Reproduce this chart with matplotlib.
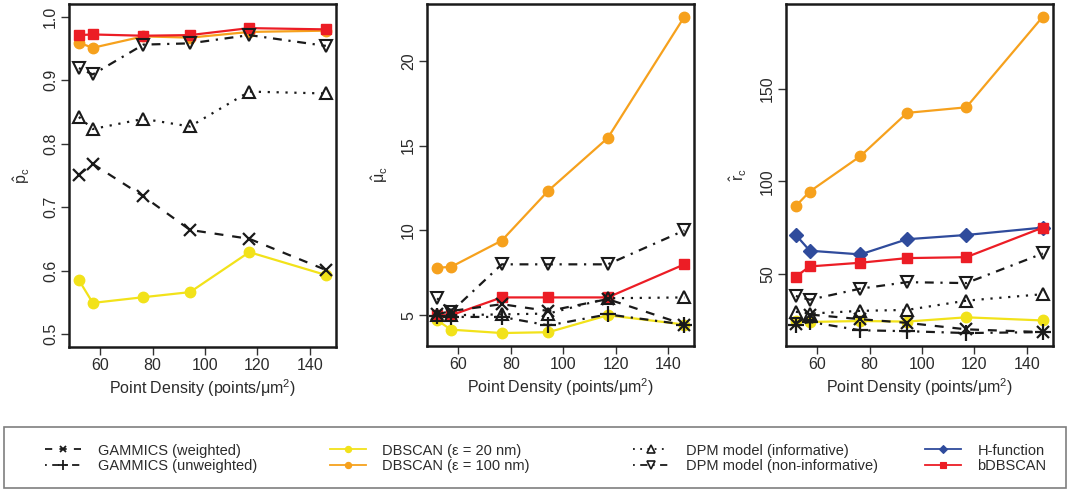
import matplotlib
matplotlib.use('Agg')
import matplotlib.pyplot as plt
from matplotlib.lines import Line2D
from matplotlib.patches import Rectangle

plt.rcParams['font.family'] = ['Liberation Sans', 'DejaVu Sans']
plt.rcParams['mathtext.fontset'] = 'custom'
plt.rcParams['mathtext.rm'] = 'Liberation Sans'
plt.rcParams['mathtext.it'] = 'Liberation Sans'
plt.rcParams['mathtext.bf'] = 'Liberation Sans:bold'

# point density, shared by all three panels
density = [51.9, 57.2, 76.5, 94.3, 116.9, 146.1]

# panel 1: p_c
p_gammics_w = [0.751, 0.768, 0.717, 0.664, 0.650, 0.601]
p_dbscan20 = [0.585, 0.549, 0.558, 0.566, 0.629, 0.593]
p_dbscan100 = [0.959, 0.951, 0.969, 0.967, 0.976, 0.978]
p_dpm_inf = [0.842, 0.823, 0.839, 0.827, 0.882, 0.879]
p_dpm_non = [0.919, 0.909, 0.956, 0.958, 0.971, 0.954]
p_bdbscan = [0.971, 0.972, 0.970, 0.971, 0.982, 0.980]

# panel 2: mu_c
mu_gammics_w = [5.05, 5.25, 5.65, 5.25, 5.95, 4.45]
mu_gammics_u = [4.95, 4.9, 4.9, 4.4, 5.05, 4.45]
mu_dbscan20 = [4.7, 4.15, 3.95, 4.0, 5.0, 4.45]
mu_dbscan100 = [7.8, 7.85, 9.4, 12.35, 15.45, 22.6]
mu_dpm_inf = [5.0, 5.0, 5.05, 5.1, 6.0, 6.05]
mu_dpm_non = [6.0, 5.2, 8.0, 8.0, 8.0, 10.0]
mu_bdbscan = [5.0, 5.0, 6.05, 6.05, 6.05, 8.0]

# panel 3: r_c
r_gammics_w = [23.0, 28.0, 25.5, 23.5, 20.0, 18.5]
r_gammics_u = [22.5, 24.0, 19.5, 19.0, 18.0, 18.5]
r_dbscan20 = [24.5, 24.0, 24.5, 24.2, 26.5, 24.8]
r_dbscan100 = [86.7, 94.5, 113.6, 137.0, 140.0, 189.0]
r_dpm_inf = [29.5, 28.5, 30.0, 30.5, 35.5, 39.0]
r_dpm_non = [38.0, 36.0, 42.0, 45.5, 45.0, 61.0]
r_hfunc = [71.0, 62.5, 60.5, 68.7, 71.0, 75.0]
r_bdbscan = [48.5, 54.0, 56.0, 58.5, 59.0, 75.0]

labels = ['GAMMICS (weighted)', 'GAMMICS (unweighted)',
          'DBSCAN (\u03b5 = 20 nm)', 'DBSCAN (\u03b5 = 100 nm)',
          'DPM model (informative)', 'DPM model (non-informative)',
          'H-function', 'bDBSCAN']

YEL = '#F2E21A'
ORA = '#F6A11D'
RED = '#EC1D25'
BLU = '#2F4B9C'
BLK = '#1a1a1a'
TXT = '#2b2b2b'

sty = {
    'gw': dict(color=BLK, ls=(0, (4, 4)), marker='x', ms=8, mew=1.6),
    'gu': dict(color=BLK, ls=(0, (1, 3, 4, 3)), marker='+', ms=11, mew=1.6),
    'd20': dict(color=YEL, ls='-', marker='o', ms=7.5),
    'd100': dict(color=ORA, ls='-', marker='o', ms=7.5),
    'inf': dict(color=BLK, ls=(0, (1, 3)), marker='^', ms=9, mew=1.5, mfc='none'),
    'non': dict(color=BLK, ls=(0, (1, 3, 4, 3)), marker='v', ms=9, mew=1.5, mfc='none'),
    'h': dict(color=BLU, ls='-', marker='D', ms=7),
    'bdb': dict(color=RED, ls='-', marker='s', ms=7),
}
order = ['gw', 'gu', 'd20', 'd100', 'inf', 'non', 'h', 'bdb']
draw_order = ['d20', 'd100', 'h', 'bdb', 'inf', 'non', 'gw', 'gu']

fig = plt.figure(figsize=(10.72, 4.90), dpi=100)
W, H = 1072.0, 490.0


def panel(x0, x1, y0, y1):
    return fig.add_axes([x0 / W, 1 - y1 / H, (x1 - x0) / W, (y1 - y0) / H])


axes = [panel(69, 335.7, 4, 346.7), panel(427.3, 694.3, 4, 345.7),
        panel(786, 1052.7, 4, 345.7)]

data = [
    {'gw': p_gammics_w, 'd20': p_dbscan20, 'd100': p_dbscan100,
     'inf': p_dpm_inf, 'non': p_dpm_non, 'bdb': p_bdbscan},
    {'gw': mu_gammics_w, 'gu': mu_gammics_u, 'd20': mu_dbscan20,
     'd100': mu_dbscan100, 'inf': mu_dpm_inf, 'non': mu_dpm_non,
     'bdb': mu_bdbscan},
    {'gw': r_gammics_w, 'gu': r_gammics_u, 'd20': r_dbscan20,
     'd100': r_dbscan100, 'inf': r_dpm_inf, 'non': r_dpm_non,
     'h': r_hfunc, 'bdb': r_bdbscan},
]
ylabels = [r'$\hat{\mathrm{p}}_\mathrm{c}$', r'$\hat{\mu}_\mathrm{c}$',
           r'$\hat{\mathrm{r}}_\mathrm{c}$']
yticks = [[0.5, 0.6, 0.7, 0.8, 0.9, 1.0], [5, 10, 15, 20], [50, 100, 150]]

for ax, d, yl, yt in zip(axes, data, ylabels, yticks):
    for k in draw_order:
        if k in d:
            s = sty[k]
            ax.plot(density, d[k], color=s['color'], ls=s['ls'], lw=1.6,
                    marker=s['marker'], ms=s['ms'], mew=s.get('mew', 1),
                    mfc=s.get('mfc', s['color']), mec=s['color'])
    ax.margins(x=0.04, y=0.04)
    ax.set_xticks([60, 80, 100, 120, 140])
    ax.set_yticks(yt)
    if yt[0] == 0.5:
        ax.set_ylim(0.48, 1.02)
        ax.set_yticklabels(['0.5', '0.6', '0.7', '0.8', '0.9', '1.0'])
    for sp in ax.spines.values():
        sp.set_linewidth(1.8)
        sp.set_color(BLK)
    ax.tick_params(direction='out', length=6, width=1, color='#333333',
                   labelsize=11.5, labelcolor=TXT, pad=2)
    for t in ax.get_yticklabels():
        t.set_rotation(90)
        t.set_va('center')
    ax.set_xlabel('Point Density (points/\u03bcm$^2$)', fontsize=11.5,
                  color=TXT, labelpad=3)
    ax.set_ylabel(yl, fontsize=11.5, color=TXT, labelpad=8)

# legend: framed box with four columns
fig.patches.append(Rectangle((4 / W, 1 - 488 / H), 1062 / W, 61 / H,
                             transform=fig.transFigure, fill=False,
                             edgecolor='#7f7f7f', lw=1.2))
handles = []
for k in order:
    s = sty[k]
    handles.append(Line2D([], [], color=s['color'], ls=s['ls'], lw=1.3,
                          marker=s['marker'], ms=s['ms'] * 0.6,
                          mew=s.get('mew', 1) * 0.8,
                          mfc=s.get('mfc', s['color']), mec=s['color']))
col_x = [45, 330, 633, 925]
for i, cx in enumerate(col_x):
    leg = fig.legend(handles[2 * i:2 * i + 2], labels[2 * i:2 * i + 2],
                     loc='center left', bbox_to_anchor=(cx / W, 1 - 458.3 / H),
                     frameon=False, fontsize=10.5, handlelength=2.5,
                     handletextpad=1.1, labelspacing=0.1, borderpad=0,
                     borderaxespad=0)
    for t in leg.get_texts():
        t.set_color(TXT)

fig.savefig('out.png', dpi=100)
